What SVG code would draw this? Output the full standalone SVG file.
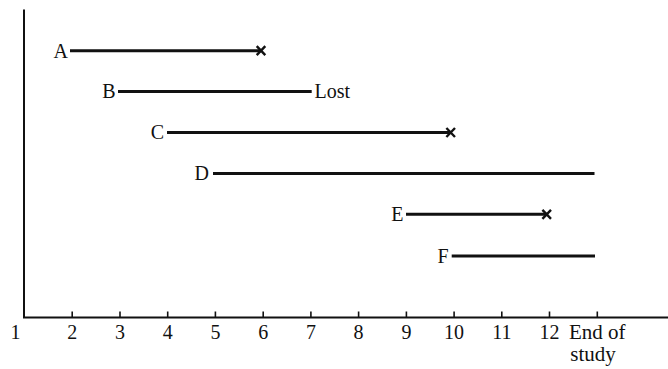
<svg xmlns="http://www.w3.org/2000/svg" width="668" height="369" viewBox="0 0 668 369">
<style>
.axis{stroke:#111;stroke-width:2;fill:none}
.tick{stroke:#111;stroke-width:1.6}
.life{stroke:#111;stroke-width:3;stroke-linecap:butt}
.x{stroke:#111;stroke-width:2.4;fill:none}
.lbl{font-size:20px;fill:#111}
.ax{font-size:20px;text-anchor:middle;fill:#111}
</style>
<rect width="668" height="369" fill="#fff"/>
<g id="axes">
<path class="axis" d="M24 9.5 V317.5 H668"/>
<g class="tick">
<line x1="72.2" y1="311.5" x2="72.2" y2="317.5"/>
<line x1="120" y1="311.5" x2="120" y2="317.5"/>
<line x1="167.7" y1="311.5" x2="167.7" y2="317.5"/>
<line x1="215.4" y1="311.5" x2="215.4" y2="317.5"/>
<line x1="263.2" y1="311.5" x2="263.2" y2="317.5"/>
<line x1="310.9" y1="311.5" x2="310.9" y2="317.5"/>
<line x1="358.6" y1="311.5" x2="358.6" y2="317.5"/>
<line x1="406.4" y1="311.5" x2="406.4" y2="317.5"/>
<line x1="454.1" y1="311.5" x2="454.1" y2="317.5"/>
<line x1="501.8" y1="311.5" x2="501.8" y2="317.5"/>
<line x1="549.5" y1="311.5" x2="549.5" y2="317.5"/>
<line x1="597.3" y1="311.5" x2="597.3" y2="317.5"/>
</g>
<g class="ax" font-family="Liberation Serif, DejaVu Serif, serif">
<text x="15.5" y="339">1</text>
<text x="72.2" y="339">2</text>
<text x="120" y="339">3</text>
<text x="167.7" y="339">4</text>
<text x="215.4" y="339">5</text>
<text x="263.2" y="339">6</text>
<text x="310.9" y="339">7</text>
<text x="358.6" y="339">8</text>
<text x="406.4" y="339">9</text>
<text x="454.1" y="339">10</text>
<text x="501.8" y="339">11</text>
<text x="549.5" y="339">12</text>
<text x="569" y="339" text-anchor="start" font-size="21">End of</text>
<text x="593" y="361" font-size="21">study</text>
</g>
</g>
<g id="connectors">
<line class="life" x1="70" y1="50.7" x2="261" y2="50.7"/>
<line class="life" x1="118" y1="91.5" x2="311.7" y2="91.5"/>
<line class="life" x1="167" y1="132.5" x2="450.7" y2="132.5"/>
<line class="life" x1="213" y1="173.5" x2="594.5" y2="173.5"/>
<line class="life" x1="406" y1="214.3" x2="546.7" y2="214.3"/>
<line class="life" x1="451.7" y1="256" x2="595" y2="256"/>
</g>
<g font-family="Liberation Serif, DejaVu Serif, serif">
<g id="node-A">
<text class="lbl" x="68" y="57.5" text-anchor="end">A</text>
<path class="x" d="M256.7 46.2 L265.3 55.2 M256.7 55.2 L265.3 46.2"/>
</g>
<g id="node-B">
<text class="lbl" x="115.5" y="98.3" text-anchor="end">B</text>
<text class="lbl" x="314.5" y="98.3" font-size="21">Lost</text>
</g>
<g id="node-C">
<text class="lbl" x="164" y="139.3" text-anchor="end">C</text>
<path class="x" d="M446.4 128 L455 137 M446.4 137 L455 128"/>
</g>
<g id="node-D">
<text class="lbl" x="209" y="180.3" text-anchor="end">D</text>
</g>
<g id="node-E">
<text class="lbl" x="403.5" y="221" text-anchor="end">E</text>
<path class="x" d="M542.4 209.8 L551 218.8 M542.4 218.8 L551 209.8"/>
</g>
<g id="node-F">
<text class="lbl" x="448.5" y="262.8" text-anchor="end">F</text>
</g>
</g>
</svg>
